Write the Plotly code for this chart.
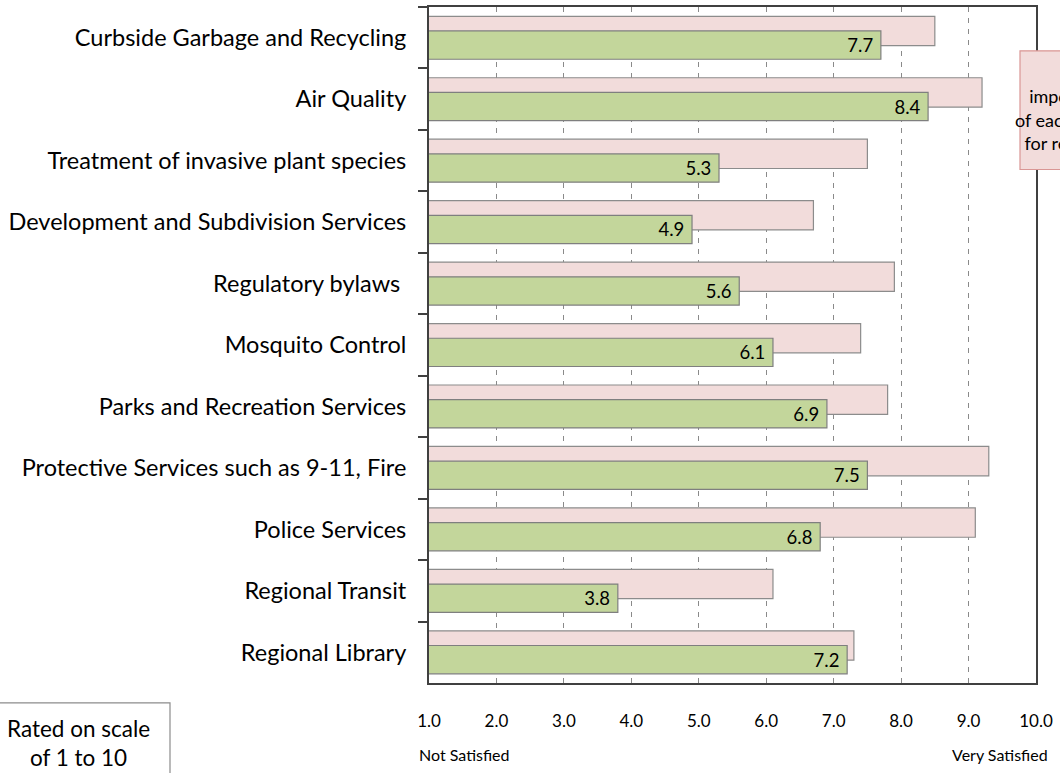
import plotly.graph_objects as go

categories = [
    "Curbside Garbage and Recycling",
    "Air Quality",
    "Treatment of invasive plant species",
    "Development and Subdivision Services",
    "Regulatory bylaws ",
    "Mosquito Control",
    "Parks and Recreation Services",
    "Protective Services such as 9-11, Fire",
    "Police Services",
    "Regional Transit",
    "Regional Library",
]
importance = [8.5, 9.2, 7.5, 6.7, 7.9, 7.4, 7.8, 9.3, 9.1, 6.1, 7.3]
satisfaction = [7.7, 8.4, 5.3, 4.9, 5.6, 6.1, 6.9, 7.5, 6.8, 3.8, 7.2]
tick_values = [1, 2, 3, 4, 5, 6, 7, 8, 9, 10]
tick_labels = ["1.0", "2.0", "3.0", "4.0", "5.0", "6.0", "7.0", "8.0", "9.0", "10.0"]

FONT = "Lato"
W, H = 1060, 773
L, R, T, B = 429, 24, 5, 90          # plot area 429..1036 px, 5..683 px
pw = W - L - R
ph = H - T - B


def px_x(p):
    return (p - L) / pw


def px_y(p):
    return (H - B - p) / ph


fig = go.Figure()
fig.add_trace(go.Bar(
    y=categories, x=importance, orientation="h",
    marker=dict(color="#F2DCDB", line=dict(color="#8C8C8C", width=1.2)),
    width=0.477, offset=-0.349, showlegend=False, name="Importance",
))
fig.add_trace(go.Bar(
    y=categories, x=satisfaction, orientation="h",
    marker=dict(color="#C3D69B", line=dict(color="#7F7F7F", width=1.2)),
    width=0.46, offset=-0.11, showlegend=False, name="Satisfaction",
    text=[f"{v:.1f}\u00a0" for v in satisfaction], textposition="inside",
    insidetextanchor="end", constraintext="none",
    textfont=dict(family=FONT, size=18.5, color="#000000"),
))

fig.update_layout(
    width=W, height=H,
    margin=dict(l=L, r=R, t=T, b=B),
    paper_bgcolor="white", plot_bgcolor="white",
    barmode="overlay",
    font=dict(family=FONT, color="#000000"),
    xaxis=dict(
        range=[1, 10],
        showgrid=True, gridcolor="#8A8A8A", gridwidth=1, griddash="5px,6px",
        tickvals=tick_values, ticktext=tick_labels, ticks="",
        tickfont=dict(family=FONT, size=17, color="#000000"),
        ticklabelstandoff=22,
        showline=True, linecolor="#404040", linewidth=2, mirror=True,
        zeroline=False,
    ),
    yaxis=dict(
        autorange="reversed", tickson="boundaries", ticks="outside",
        ticklen=9, tickwidth=2, tickcolor="#404040",
        showline=True, linecolor="#404040", linewidth=2, mirror=True,
        tickfont=dict(family=FONT, size=23.5, color="#000000"),
        ticklabelstandoff=16, showgrid=False,
    ),
)

# axis end captions
fig.add_annotation(text="Not Satisfied", xref="paper", yref="paper",
                   x=px_x(417), y=px_y(755), xanchor="left", yanchor="middle",
                   showarrow=False, font=dict(family=FONT, size=16))
fig.add_annotation(text="Very Satisfied", xref="paper", yref="paper",
                   x=px_x(1050), y=px_y(755), xanchor="right", yanchor="middle",
                   showarrow=False, font=dict(family=FONT, size=16))

# bottom-left note box (cut by the page edge)
fig.add_shape(type="rect", xref="paper", yref="paper",
              x0=px_x(-60), x1=px_x(170), y0=px_y(703), y1=px_y(800),
              line=dict(color="#8C8C8C", width=1.2), fillcolor="white")
fig.add_annotation(text="Rated on scale<br>of 1 to 10", xref="paper", yref="paper",
                   x=px_x(78), y=px_y(743), xanchor="center", yanchor="middle",
                   align="center", showarrow=False,
                   font=dict(family=FONT, size=22.5))

# right note box (cut by the page edge)
fig.add_shape(type="rect", xref="paper", yref="paper",
              x0=px_x(1020), x1=px_x(1140), y0=px_y(168), y1=px_y(49),
              line=dict(color="#D99694", width=1.2), fillcolor="#F2DCDB")
fig.add_annotation(text="&nbsp;<br>importance<br>of each service<br>for residents",
                   xref="paper", yref="paper",
                   x=px_x(1074), y=px_y(106), xanchor="center", yanchor="middle",
                   align="center", showarrow=False,
                   font=dict(family=FONT, size=18))

fig.write_html("out.html", config={"displayModeBar": False},
               post_script="document.body.style.margin='0px';")
